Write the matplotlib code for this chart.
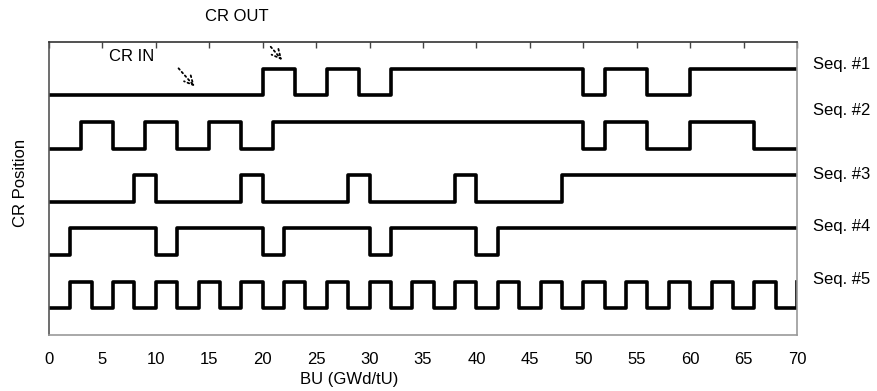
import matplotlib
matplotlib.use('Agg')
import matplotlib.pyplot as plt

plt.rcParams['font.family'] = ['Liberation Sans', 'DejaVu Sans']

# burnup breakpoints (GWd/tU) and rod state after each point (1 = out, 0 = in)
seq1_bu = [0, 20, 23, 26, 29, 32, 50, 52, 56, 60, 70]
seq1_st = [0, 1, 0, 1, 0, 1, 0, 1, 0, 1, 1]

seq2_bu = [0, 3, 6, 9, 12, 15, 18, 21, 50, 52, 56, 60, 66, 70]
seq2_st = [0, 1, 0, 1, 0, 1, 0, 1, 0, 1, 0, 1, 0, 0]

seq3_bu = [0, 8, 10, 18, 20, 28, 30, 38, 40, 48, 70]
seq3_st = [0, 1, 0, 1, 0, 1, 0, 1, 0, 1, 1]

seq4_bu = [0, 2, 10, 12, 20, 22, 30, 32, 40, 42, 70]
seq4_st = [0, 1, 0, 1, 0, 1, 0, 1, 0, 1, 1]

seq5_bu = [0, 2, 4, 6, 8, 10, 12, 14, 16, 18, 20, 22, 24, 26, 28, 30, 32, 34,
           36, 38, 40, 42, 44, 46, 48, 50, 52, 54, 56, 58, 60, 62, 64, 66, 68, 70]
seq5_st = [0, 1, 0, 1, 0, 1, 0, 1, 0, 1, 0, 1, 0, 1, 0, 1, 0, 1,
           0, 1, 0, 1, 0, 1, 0, 1, 0, 1, 0, 1, 0, 1, 0, 1, 0, 1]

seq_names = ['Seq. #1', 'Seq. #2', 'Seq. #3', 'Seq. #4', 'Seq. #5']
xticks = [0, 5, 10, 15, 20, 25, 30, 35, 40, 45, 50, 55, 60, 65, 70]

all_bu = [seq1_bu, seq2_bu, seq3_bu, seq4_bu, seq5_bu]
all_st = [seq1_st, seq2_st, seq3_st, seq4_st, seq5_st]

# vertical offset of each trace and y of its name
offsets = [9, 7, 5, 3, 1]
name_y = [10.15, 8.44, 6.03, 4.09, 2.1]

fig = plt.figure(figsize=(8.78, 3.91), dpi=100)
ax = fig.add_axes([0.0558, 0.1432, 0.852, 0.7494])

for bu, st, off in zip(all_bu, all_st, offsets):
    ax.step(bu, [s + off for s in st], where='post', color='black', lw=2.6)

for name, y in zip(seq_names, name_y):
    ax.text(71.45, y, name, fontsize=12, va='center', ha='left', clip_on=False)

ax.set_xlim(0, 70)
ax.set_ylim(0, 11)
ax.set_xticks(xticks)
ax.set_yticks([])
ax.tick_params(axis='x', bottom=False, top=True, direction='in', length=4,
               width=1, pad=12, labelsize=12, color='#444444')

ax.spines['top'].set_color('#333333')
ax.spines['left'].set_color('#555555')
ax.spines['right'].set_color('#999999')
ax.spines['bottom'].set_color('#999999')
for sp in ax.spines.values():
    sp.set_linewidth(1.2)

ax.set_xlabel('BU (GWd/tU)', fontsize=12)
ax.xaxis.set_label_coords(0.401, -0.125)
ax.set_ylabel('CR Position', fontsize=12)
ax.yaxis.set_label_coords(-0.028, 0.519)

# annotations
arrow = dict(arrowstyle='->', linestyle=':', lw=1.3, color='black', mutation_scale=16)
ax.text(7.74, 10.46, 'CR IN', fontsize=12, ha='center', va='center')
ax.annotate('', xy=(13.8, 9.25), xytext=(11.95, 10.09), arrowprops=arrow)
ax.text(17.6, 11.95, 'CR OUT', fontsize=12, ha='center', va='center', clip_on=False)
ax.annotate('', xy=(21.98, 10.24), xytext=(20.58, 10.9), arrowprops=arrow,
            annotation_clip=False)

plt.savefig('out.png', dpi=100)
